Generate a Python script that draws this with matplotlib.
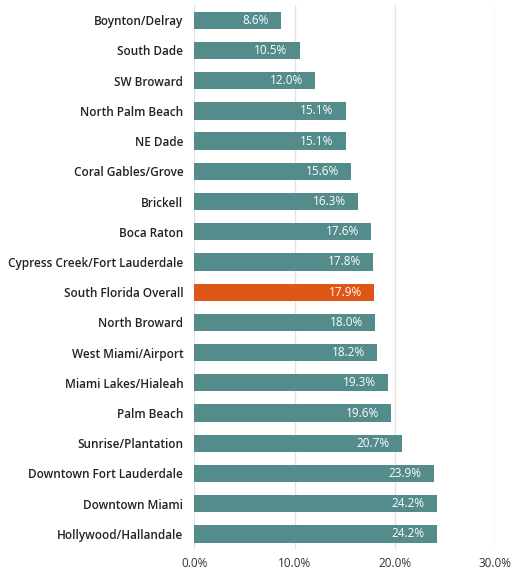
import numpy as np
import matplotlib as mpl
mpl.use("Agg")
import matplotlib.pyplot as plt

mpl.rcParams.update({"font.family": ["Open Sans", "DejaVu Sans"], "font.size": 8.5})

regions = ["Boynton/Delray", "South Dade", "SW Broward", "North Palm Beach", "NE Dade",
           "Coral Gables/Grove", "Brickell", "Boca Raton", "Cypress Creek/Fort Lauderdale",
           "South Florida Overall", "North Broward", "West Miami/Airport", "Miami Lakes/Hialeah",
           "Palm Beach", "Sunrise/Plantation", "Downtown Fort Lauderdale", "Downtown Miami",
           "Hollywood/Hallandale"]
rates = [8.6, 10.5, 12.0, 15.1, 15.1, 15.6, 16.3, 17.6, 17.8, 17.9, 18.0, 18.2, 19.3,
         19.6, 20.7, 23.9, 24.2, 24.2]
highlight = "South Florida Overall"

TEAL, ORANGE = "#548b8b", "#df5716"

fig = plt.figure(figsize=(5.13, 5.71), dpi=100)
ax = fig.add_axes([0.379, 0.0385, 0.586, 0.9525])
y = np.arange(len(regions))
cols = [ORANGE if r == highlight else TEAL for r in regions]
ax.barh(y, rates, height=0.57, color=cols, zorder=3)
for yi, v in zip(y, rates):
    ax.text(v - 1.2, yi, f"{v:.1f}%", ha="right", va="center", color="white",
            fontsize=8.5, zorder=4)

ax.set_xlim(0, 30)
ax.set_ylim(len(regions) - 0.5, -0.5)
ax.set_xticks([0, 10, 20, 30])
ax.set_xticklabels(["0.0%", "10.0%", "20.0%", "30.0%"], color="#333333")
ax.set_yticks(y)
ax.set_yticklabels(regions, fontweight="semibold", color="#222222")
ax.xaxis.grid(True, color="#e3e3e3", lw=1, zorder=0)
ax.tick_params(length=0, pad=8)
ax.tick_params(axis="x", pad=6)
for s in ax.spines.values():
    s.set_visible(False)

fig.savefig("out.png", dpi=100)
